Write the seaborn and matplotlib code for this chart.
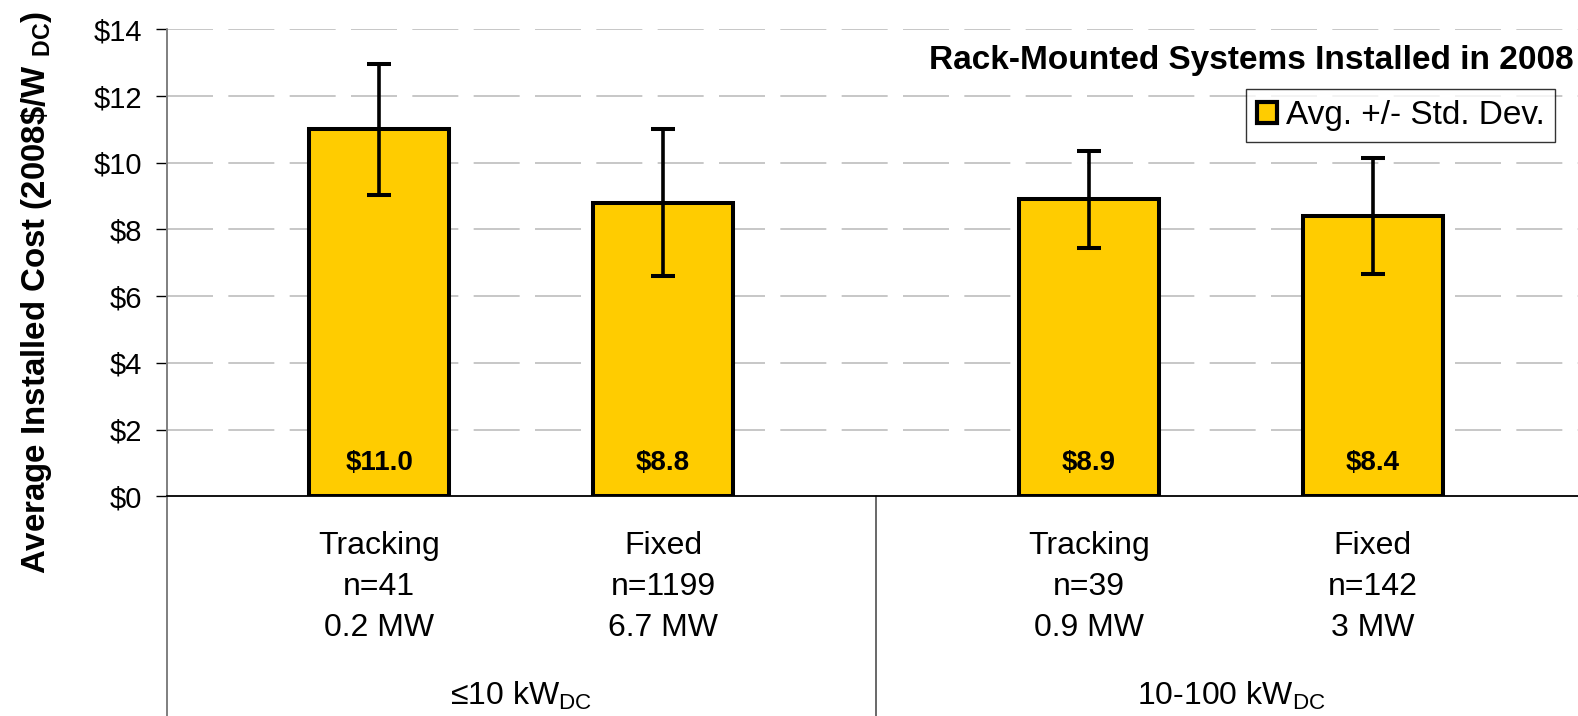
import matplotlib.pyplot as plt
import numpy as np
import pandas as pd
import seaborn as sns
from matplotlib.patches import Patch

# data
groups = ['≤10 kW$_{\\mathrm{DC}}$', '10-100 kW$_{\\mathrm{DC}}$']
group_of = [0, 0, 1, 1]
mounting = ['Tracking', 'Fixed', 'Tracking', 'Fixed']
n_systems = [41, 1199, 39, 142]
capacity = ['0.2 MW', '6.7 MW', '0.9 MW', '3 MW']
avg_cost = [11.0, 8.8, 8.9, 8.4]
std_cost = [1.96, 2.2, 1.46, 1.74]
yticks = [0, 2, 4, 6, 8, 10, 12, 14]

sns.set_theme(style='white')
plt.rcParams['font.family'] = ['Liberation Sans', 'DejaVu Sans']
plt.rcParams['mathtext.fontset'] = 'custom'
plt.rcParams['mathtext.rm'] = 'Liberation Sans'
plt.rcParams['mathtext.bf'] = 'Liberation Sans:bold'
plt.rcParams['text.color'] = 'black'
plt.rcParams['axes.labelcolor'] = 'black'
plt.rcParams['ytick.color'] = 'black'

# bars sit one unit apart inside a group, 1.5 units across the group gap
pos = [g * 2.5 + i % 2 for i, g in enumerate(group_of)]
df = pd.DataFrame({'pos': pos, 'cost': avg_cost, 'std': std_cost})

fig = plt.figure(figsize=(15.78, 7.16), dpi=100)
ax = fig.add_axes([166.7 / 1578, 1 - 496.3 / 716, 1 - 166.7 / 1578, (496.3 - 29.3) / 716])

sns.barplot(data=df, x='pos', y='cost', native_scale=True, width=0.493,
            color='#FFCC00', saturation=1, edgecolor='black', linewidth=2.9,
            errorbar=None, ax=ax, zorder=3)
ax.errorbar(df['pos'], df['cost'], yerr=df['std'], fmt='none', ecolor='black',
            elinewidth=2.6, capsize=8.3, capthick=2.9, zorder=4)

for x, v in zip(pos, avg_cost):
    ax.text(x, 1.0, f'${v:.1f}', ha='center', va='center', fontsize=20,
            fontweight='bold', zorder=5)

xmin, xmax = -0.749, 4.223
ax.set_xlim(xmin, xmax)
ax.set_ylim(0, 14)
ax.set_yticks(yticks)
ax.set_yticklabels([f'${t}' for t in yticks], fontsize=21)
ax.set_xticks([])
ax.set_xlabel('')
ax.tick_params(axis='y', left=True, length=7.7, width=1, color='black', pad=10)
for t in yticks[1:]:
    ax.axhline(t, color='#bdbdbd', lw=1.2, dashes=(27.6, 9.2), zorder=1)

ax.spines['top'].set_visible(False)
ax.spines['right'].set_visible(False)
ax.spines['bottom'].set_color('black')
ax.spines['bottom'].set_linewidth(1.3)
ax.spines['bottom'].set_zorder(3.5)
ax.spines['left'].set_visible(False)

# category axis lines reaching the bottom edge
trans = ax.get_xaxis_transform()
ax.plot([xmin, xmin], [1, -0.48], color='#7f7f7f', lw=1.4, transform=trans, clip_on=False)
mid = (pos[1] + pos[2]) / 2
ax.plot([mid, mid], [0, -0.48], color='#404040', lw=1.1, transform=trans, clip_on=False)

for x, m, n, c in zip(pos, mounting, n_systems, capacity):
    for y, s in zip([-0.107, -0.195, -0.282], [m, f'n={n}', c]):
        ax.text(x, y, s, transform=trans, ha='center', va='center', fontsize=23)

for g, label in enumerate(groups):
    xs = [p for p, gg in zip(pos, group_of) if gg == g]
    ax.text(np.mean(xs), -0.428, label, transform=trans, ha='center', va='center', fontsize=23)

ax.set_ylabel('Average Installed Cost (2008\\$/W $_{\\mathbf{DC}}$)', fontsize=23.8,
              fontweight='bold')
ax.yaxis.set_label_coords(-0.080, 0.4375)

ax.text(0.997, 0.933, 'Rack-Mounted Systems Installed in 2008', transform=ax.transAxes,
        ha='right', va='center', fontsize=24, fontweight='bold')

handle = Patch(facecolor='#FFCC00', edgecolor='black', linewidth=3)
leg = ax.legend([handle], ['Avg. +/- Std. Dev.'], loc='upper right',
                bbox_to_anchor=(0.984, 0.872), fontsize=24, frameon=True,
                fancybox=False, handlelength=0.6, handleheight=0.6,
                handletextpad=0.27, borderpad=0.33, borderaxespad=0)
leg.get_frame().set_edgecolor('black')
leg.get_frame().set_linewidth(1.0)

fig.savefig('out.png', dpi=100)
